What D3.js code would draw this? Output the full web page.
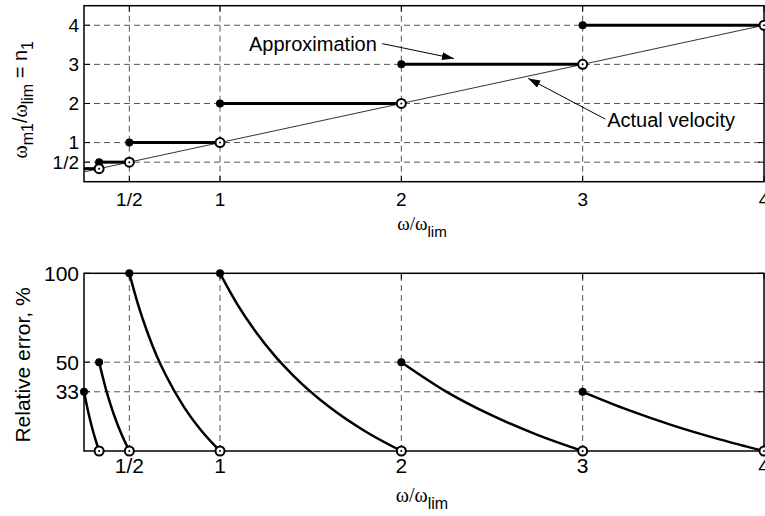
<!DOCTYPE html>
<html>
<head>
<meta charset="utf-8">
<script src="https://cdn.jsdelivr.net/npm/d3@7/dist/d3.min.js"></script>
<style>
  html, body { margin: 0; padding: 0; background: #fff; }
  svg { display: block; font-family: "Liberation Sans", Arial, sans-serif; }
</style>
</head>
<body>
<svg id="chart" width="765" height="516"></svg>
<script>
// Speed ratio steps: each interval [stepStart, stepEnd] uses the level stepLevel
const stepStart = [1/4, 1/3, 1/2, 1, 2, 3];
const stepEnd   = [1/3, 1/2, 1,   2, 3, 4];
const stepLevel = [1/3, 1/2, 1,   2, 3, 4];

// Actual velocity line (n1 = omega/omega_lim)
const actualX = [1/4, 4];
const actualY = [1/4, 4];

// Relative error along each interval, percent
const errX = [
  [0.25, 0.27, 0.29, 0.31, 1/3],
  [1/3, 0.375, 0.4, 0.425, 0.45, 0.475, 0.5],
  [0.5, 0.55, 0.6, 0.65, 0.7, 0.8, 0.9, 1],
  [1, 1.1, 1.2, 1.3, 1.4, 1.6, 1.8, 2],
  [2, 2.25, 2.5, 2.75, 3],
  [3, 3.25, 3.5, 3.75, 4]
];
const errY = [
  [33.3, 23.5, 14.9, 7.5, 0],
  [50, 33.3, 25, 17.6, 11.1, 5.3, 0],
  [100, 81.8, 66.7, 53.8, 42.9, 25, 11.1, 0],
  [100, 81.8, 66.7, 53.8, 42.9, 25, 11.1, 0],
  [50, 33.3, 20, 9.1, 0],
  [33.3, 23.1, 14.3, 6.7, 0]
];

// Tick values and labels
const xTicks = [0.5, 1, 2, 3, 4];
const xTickLabels = ["1/2", "1", "2", "3", "4"];
const topYTicks = [0.5, 1, 2, 3, 4];
const topYTickLabels = ["1/2", "1", "2", "3", "4"];
const botYTicks = [100/3, 50, 100];
const botYTickLabels = ["33", "50", "100"];

const svg = d3.select("#chart");

const x = d3.scaleLinear().domain([0.25, 4]).range([84, 764]);
const yTop = d3.scaleLinear().domain([0, 4.5]).range([181.7, 5.7]);
const yBot = d3.scaleLinear().domain([0, 100]).range([451, 273.3]);

const gridColor = "#555";
const dash = "6,4";

function panel(y, yTicks, yLabels, xLabelBase, yLabelSize, xLabelSize) {
  const g = svg.append("g");
  const [x0, x1] = x.range();
  const [yb, yt] = y.range();
  // dashed grid
  g.selectAll(".vg").data(xTicks.filter(d => d < 4)).join("line")
    .attr("x1", d => x(d)).attr("x2", d => x(d))
    .attr("y1", yb).attr("y2", yt)
    .attr("stroke", gridColor).attr("stroke-width", 1).attr("stroke-dasharray", dash);
  g.selectAll(".hg").data(yTicks.filter(d => y(d) > yt + 1)).join("line")
    .attr("x1", x0).attr("x2", x1)
    .attr("y1", d => y(d)).attr("y2", d => y(d))
    .attr("stroke", gridColor).attr("stroke-width", 1).attr("stroke-dasharray", dash);

  // inward ticks
  const tl = 6;
  g.selectAll(".xt").data(xTicks).join("line")
    .attr("x1", d => x(d)).attr("x2", d => x(d))
    .attr("y1", yb).attr("y2", yb - tl)
    .attr("stroke", "#000").attr("stroke-width", 1);
  g.selectAll(".xt2").data(xTicks).join("line")
    .attr("x1", d => x(d)).attr("x2", d => x(d))
    .attr("y1", yt).attr("y2", yt + tl)
    .attr("stroke", "#000").attr("stroke-width", 1);
  g.selectAll(".yt").data(yTicks).join("line")
    .attr("x1", x0).attr("x2", x0 + tl)
    .attr("y1", d => y(d)).attr("y2", d => y(d))
    .attr("stroke", "#000").attr("stroke-width", 1);
  g.selectAll(".yt2").data(yTicks).join("line")
    .attr("x1", x1).attr("x2", x1 - tl)
    .attr("y1", d => y(d)).attr("y2", d => y(d))
    .attr("stroke", "#000").attr("stroke-width", 1);

  // frame
  g.append("rect")
    .attr("x", x0).attr("y", yt).attr("width", x1 - x0).attr("height", yb - yt)
    .attr("fill", "none").attr("stroke", "#000").attr("stroke-width", 1.5);

  // tick labels
  g.selectAll(".xl").data(xTicks).join("text")
    .attr("x", d => x(d)).attr("y", xLabelBase)
    .attr("text-anchor", "middle").attr("font-size", xLabelSize)
    .text((d, i) => xTickLabels[i]);
  g.selectAll(".yl").data(yTicks).join("text")
    .attr("x", x0 - 5).attr("y", d => y(d)).attr("dy", "0.35em")
    .attr("text-anchor", "end").attr("font-size", yLabelSize)
    .text((d, i) => yLabels[i]);
  return g;
}

// ---------- top panel ----------
const gTop = panel(yTop, topYTicks, topYTickLabels, 206, 19, 19);

gTop.append("line")
  .attr("x1", x(actualX[0])).attr("y1", yTop(actualY[0]))
  .attr("x2", x(actualX[1])).attr("y2", yTop(actualY[1]))
  .attr("stroke", "#333").attr("stroke-width", 1);

gTop.selectAll(".step").data(stepLevel).join("line")
  .attr("x1", (d, i) => x(stepStart[i])).attr("x2", (d, i) => x(stepEnd[i]))
  .attr("y1", d => yTop(d)).attr("y2", d => yTop(d))
  .attr("stroke", "#000").attr("stroke-width", 3);

// filled dots at the start of each step (first one sits on the frame)
gTop.selectAll(".fdot").data(stepLevel.slice(1)).join("circle")
  .attr("cx", (d, i) => x(stepStart[i + 1])).attr("cy", d => yTop(d))
  .attr("r", 4).attr("fill", "#000");

// open circles where the step meets the actual velocity
function openCircle(g, cx, cy) {
  g.append("circle").attr("cx", cx).attr("cy", cy).attr("r", 4.5)
    .attr("fill", "#fff").attr("stroke", "#000").attr("stroke-width", 2);
  g.append("circle").attr("cx", cx).attr("cy", cy).attr("r", 1).attr("fill", "#000");
}
stepEnd.forEach(d => openCircle(gTop, x(d), yTop(d)));

// annotations
const defs = svg.append("defs");
defs.append("marker").attr("id", "head")
  .attr("viewBox", "0 0 12 8").attr("refX", 12).attr("refY", 4)
  .attr("markerWidth", 12).attr("markerHeight", 8)
  .attr("markerUnits", "userSpaceOnUse").attr("orient", "auto")
  .append("path").attr("d", "M0,0 L12,4 L0,8 Z").attr("fill", "#000");

gTop.append("text").attr("x", x(1.16)).attr("y", yTop(3.33))
  .attr("font-size", 20).text("Approximation");
gTop.append("line")
  .attr("x1", x(1.895)).attr("y1", yTop(3.53))
  .attr("x2", x(2.29)).attr("y2", yTop(3.15))
  .attr("stroke", "#000").attr("stroke-width", 1)
  .attr("marker-end", "url(#head)");

gTop.append("text").attr("x", x(3.135)).attr("y", yTop(1.39))
  .attr("font-size", 20).text("Actual velocity");
gTop.append("line")
  .attr("x1", x(3.125)).attr("y1", yTop(1.6))
  .attr("x2", x(2.70)).attr("y2", yTop(2.64))
  .attr("stroke", "#000").attr("stroke-width", 1)
  .attr("marker-end", "url(#head)");

// axis titles with subscripts
function omegaLabel(g, cx, base, size) {
  const t = g.append("text").attr("x", cx).attr("y", base)
    .attr("text-anchor", "middle").attr("font-size", size);
  t.append("tspan").attr("font-family", "Liberation Serif").text("ω/ω");
  t.append("tspan").attr("font-size", size * 0.8).attr("dy", 7).text("lim");
}
omegaLabel(gTop, 422, 230, 19);

const yTitle = gTop.append("text")
  .attr("transform", "translate(27," + (yTop(2.25) + 6) + ") rotate(-90)")
  .attr("text-anchor", "middle").attr("font-size", 20);
yTitle.append("tspan").attr("font-family", "Liberation Serif").text("ω");
yTitle.append("tspan").attr("font-size", 16).attr("dy", 6).text("m1");
yTitle.append("tspan").attr("dy", -6).text("/");
yTitle.append("tspan").attr("font-family", "Liberation Serif").text("ω");
yTitle.append("tspan").attr("font-size", 16).attr("dy", 6).text("lim");
yTitle.append("tspan").attr("dy", -6).text(" = n");
yTitle.append("tspan").attr("font-size", 16).attr("dy", 6).text("1");

// ---------- bottom panel ----------
const gBot = panel(yBot, botYTicks, botYTickLabels, 473, 21, 21);

const line = d3.line().x(d => x(d[0])).y(d => yBot(d[1])).curve(d3.curveMonotoneX);
errX.forEach((xs, i) => {
  const pts = xs.map((v, j) => [v, errY[i][j]]);
  gBot.append("path").attr("d", line(pts))
    .attr("fill", "none").attr("stroke", "#000").attr("stroke-width", 2.5);
});
gBot.selectAll(".fdot").data(errX).join("circle")
  .attr("cx", d => x(d[0])).attr("cy", (d, i) => yBot(errY[i][0]))
  .attr("r", 4).attr("fill", "#000");
errX.forEach((xs, i) => {
  const k = xs.length - 1;
  openCircle(gBot, x(xs[k]), yBot(errY[i][k]));
});

omegaLabel(gBot, 422, 502, 20);

gBot.append("text")
  .attr("transform", "translate(30," + 365 + ") rotate(-90)")
  .attr("text-anchor", "middle").attr("font-size", 21)
  .text("Relative error, %");
</script>
</body>
</html>
